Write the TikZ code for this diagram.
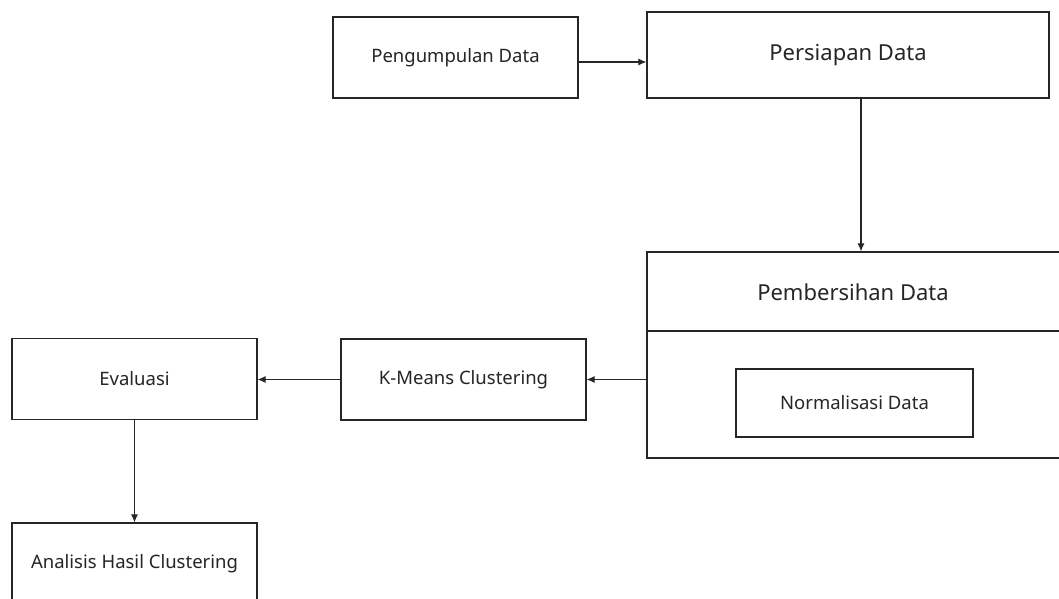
\documentclass[tikz,border=0pt]{standalone}
\usepackage{fontspec}
\setmainfont{Noto Sans}
\usetikzlibrary{arrows.meta}

\begin{document}
\begin{tikzpicture}[x=1pt, y=-1pt,
    box/.style={draw=black!85, line width=1.2pt, fill=white, text=black!85,
      font=\fontsize{18.5}{22}\selectfont, minimum width=245pt, minimum height=81pt, inner sep=0pt},
    bigfont/.style={font=\fontsize{22}{26}\selectfont},
    flow/.style={draw=black!85, line width=1.1pt, -{Latex[length=8pt,width=7pt]}}]
      \useasboundingbox (0,0) rectangle (1059,599);
      \node[box] (pengumpulan) at (455.5,57.5) {Pengumpulan Data};
      \node[box, bigfont, minimum width=402pt, minimum height=86pt] (persiapan) at (848,55) {Persiapan Data};
      \node[box, minimum width=415pt, minimum height=206pt] (pembersihan) at (854.5,355) {};
      \node[bigfont, text=black!85] (judul) at (853,292) {Pembersihan Data};
      \draw[draw=black!85, line width=1.2pt] (pembersihan.west |- 0,331) -- (pembersihan.east |- 0,331);
      \node[box, minimum width=237pt, minimum height=68pt] (normalisasi) at (854.5,403) {Normalisasi Data};
      \node[box] (kmeans) at (463.5,379.5) {K-Means Clustering};
      \node[box] (evaluasi) at (134.5,379) {Evaluasi};
      \node[box] (analisis) at (134.5,563.5) {Analisis Hasil Clustering};
      \coordinate (masuk) at (647,62);
      \coordinate (turun) at (861,0);
      \draw[flow] (pengumpulan.east |- masuk) -- (persiapan.west |- masuk);
      \draw[flow] (persiapan.south -| turun) -- (pembersihan.north -| turun);
      \draw[flow] (pembersihan.west |- kmeans.east) -- (kmeans.east);
      \draw[flow] (kmeans.west) -- (evaluasi.east |- kmeans.west);
      \draw[flow] (evaluasi.south) -- (analisis.north);
\end{tikzpicture}
\end{document}
